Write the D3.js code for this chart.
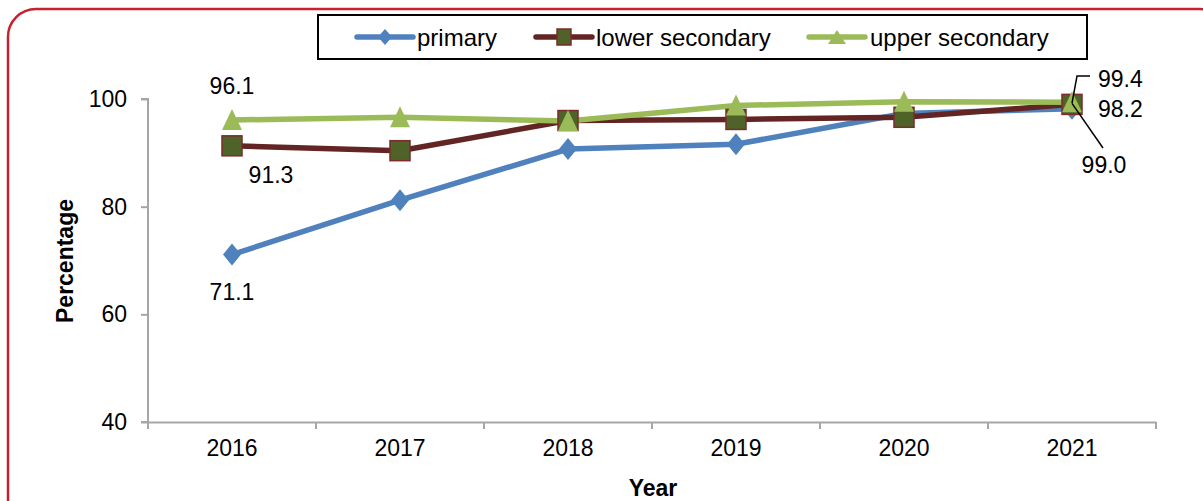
<!DOCTYPE html>
<html><head><meta charset="utf-8">
<script src="https://cdn.jsdelivr.net/npm/d3@7"></script>
<style>body{margin:0;background:#fff}svg{display:block;font-family:"Liberation Sans",Arial,sans-serif}</style>
</head><body><svg id="c" width="1203" height="501"></svg>
<script>
const years = ["2016","2017","2018","2019","2020","2021"];
const primary = [71.1, 81.2, 90.7, 91.6, 97.3, 98.2];
const lowerSecondary = [91.3, 90.4, 96.0, 96.2, 96.6, 99.0];
const upperSecondary = [96.1, 96.6, 95.9, 98.8, 99.5, 99.4];
const yTicks = [40, 60, 80, 100];
const seriesNames = ["primary","lower secondary","upper secondary"];

const FONT = "Liberation Sans, Arial, sans-serif";
const svg = d3.select("#c");
svg.append("rect").attr("x",8).attr("y",9).attr("width",1220).attr("height",520).attr("rx",28)
  .attr("fill","none").attr("stroke","#c8202f").attr("stroke-width",2.5);

const L=148, R=1156, T=99, B=422;
const x = d3.scaleBand().domain(years).range([L,R]);
const y = d3.scaleLinear().domain([40,100]).range([B,T]);
const cx = d => x(d)+x.bandwidth()/2;

// axes
const gx = svg.append("g").attr("transform",`translate(0,${B})`)
  .call(d3.axisBottom(x).tickSize(0).tickPadding(18));
gx.select(".domain").attr("stroke","#a6a6a6").attr("stroke-width",2);
gx.selectAll("text").attr("font-size",23).attr("fill","#000").attr("font-family",FONT);
const bnd = years.map(d=>x(d)).concat([R]);
gx.selectAll("line.bt").data(bnd).enter().append("line").attr("class","bt")
  .attr("x1",d=>d).attr("x2",d=>d).attr("y1",0).attr("y2",7).attr("stroke","#a6a6a6").attr("stroke-width",2);

const gy = svg.append("g").attr("transform",`translate(${L},0)`)
  .call(d3.axisLeft(y).tickValues(yTicks).tickSize(7).tickPadding(14));
gy.select(".domain").attr("stroke","#a6a6a6").attr("stroke-width",2).attr("d",`M-7,${T}H0V${B}H-7`);
gy.selectAll(".tick line").attr("stroke","#a6a6a6").attr("stroke-width",2);
gy.selectAll("text").attr("font-size",23).attr("fill","#000").attr("font-family",FONT);

svg.append("text").attr("x",653).attr("y",496).attr("text-anchor","middle")
  .attr("font-size",23).attr("font-weight","bold").text("Year");
svg.append("text").attr("transform","translate(73,261) rotate(-90)").attr("text-anchor","middle")
  .attr("font-size",23).attr("font-weight","bold").text("Percentage");

const line = d3.line().x((d,i)=>cx(years[i])).y(d=>y(d));
const series = [
  {vals: primary, color:"#4f81bd", marker:"diamond"},
  {vals: lowerSecondary, color:"#632523", marker:"square"},
  {vals: upperSecondary, color:"#9bbb59", marker:"triangle"}
];
function marker(g, type, px, py){
  if(type==="diamond"){
    g.append("path").attr("d",`M${px},${py-11}L${px+9},${py}L${px},${py+11}L${px-9},${py}Z`).attr("fill","#4f81bd");
  } else if(type==="square"){
    g.append("rect").attr("x",px-10).attr("y",py-10).attr("width",20).attr("height",20)
      .attr("fill","#4f6228").attr("stroke","#7b2b2b").attr("stroke-width",1.5);
  } else {
    g.append("path").attr("d",`M${px},${py-11}L${px+10},${py+10}L${px-10},${py+10}Z`).attr("fill","#9bbb59");
  }
}
series.forEach(s=>{
  svg.append("path").datum(s.vals).attr("d",line).attr("fill","none")
    .attr("stroke",s.color).attr("stroke-width",5.5).attr("stroke-linejoin","round");
});
series.forEach(s=>{
  const g = svg.append("g");
  s.vals.forEach((v,i)=>marker(g,s.marker,cx(years[i]),y(v)));
});

// data labels
const lab = (t,px,py,anchor)=>svg.append("text").attr("x",px).attr("y",py).attr("font-size",23)
  .attr("text-anchor",anchor||"middle").text(t);
lab(d3.format(".1f")(upperSecondary[0]), cx(years[0]), 94);
lab(d3.format(".1f")(lowerSecondary[0]), cx(years[0])+39, 183);
lab(d3.format(".1f")(primary[0]), cx(years[0]), 300);
const xr = cx(years[5]);
lab(d3.format(".1f")(upperSecondary[5]), 1098, 87, "start");
lab(d3.format(".1f")(primary[5]), 1098, 117, "start");
lab(d3.format(".1f")(lowerSecondary[5]), 1104, 173);
svg.append("path").attr("d",`M${xr},${y(upperSecondary[5])+1}L${xr+5},76H${xr+18}`)
  .attr("fill","none").attr("stroke","#000").attr("stroke-width",1.5);
svg.append("path").attr("d",`M${xr},${y(lowerSecondary[5])-1}L${xr+31},148`)
  .attr("fill","none").attr("stroke","#000").attr("stroke-width",1.5);

// legend
const lg = svg.append("g");
lg.append("rect").attr("x",318).attr("y",15).attr("width",769).attr("height",44)
  .attr("fill","#fff").attr("stroke","#000").attr("stroke-width",2);
const lx = [357, 536, 809];
const tx = [417, 596, 870];
series.forEach((s,i)=>{
  const x0 = lx[i];
  lg.append("line").attr("x1",x0).attr("x2",x0+56).attr("y1",37).attr("y2",37)
    .attr("stroke",s.color).attr("stroke-width",5.5).attr("stroke-linecap","round");
  const g = lg.append("g");
  const m = x0+28;
  if(s.marker==="diamond"){
    g.append("path").attr("d",`M${m},29L${m+7},37L${m},45L${m-7},37Z`).attr("fill","#4f81bd");
  } else if(s.marker==="square"){
    g.append("rect").attr("x",m-7).attr("y",29).attr("width",14).attr("height",16)
      .attr("fill","#4f6228").attr("stroke","#7b2b2b").attr("stroke-width",1.5);
  } else {
    g.append("path").attr("d",`M${m},30L${m+9},44L${m-9},44Z`).attr("fill","#9bbb59");
  }
  lg.append("text").attr("x",tx[i]).attr("y",46).attr("font-size",24).text(seriesNames[i]);
});
</script></body></html>
